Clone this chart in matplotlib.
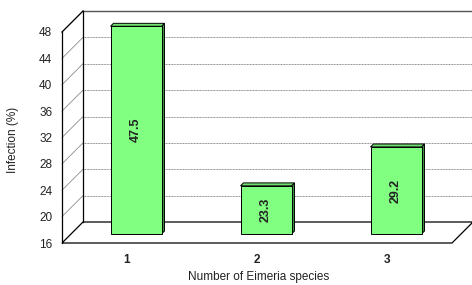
import matplotlib
matplotlib.use("Agg")
import matplotlib.pyplot as plt
from matplotlib.patches import Polygon

plt.rcParams['font.family'] = ['Liberation Sans', 'DejaVu Sans']

categories = ["1", "2", "3"]
values = [47.5, 23.3, 29.2]
yticks = [16, 20, 24, 28, 32, 36, 40, 44, 48]

W, H = 472, 285
fig = plt.figure(figsize=(W / 100, H / 100), dpi=100)
# front plane of the 3D box, in pixels: x 62..452, y 32..243 (from top)
ax = fig.add_axes([62 / W, (H - 243) / H, 390 / W, 211 / H])
ax.set_xlim(0.5, 3.5)
ax.set_ylim(16, 48)

# depth offset (21 px right, 21 px up) in data units
dx = 21 / 130
dy = 21 / (211 / 32)
x0, x1 = 0.5, 3.5
y0, y1 = 16, 48

def poly(pts, **kw):
    p = Polygon(pts, closed=True, clip_on=False, **kw)
    ax.add_patch(p)

# back wall, side wall, floor
poly([(x0 + dx, y0 + dy), (x1 + dx, y0 + dy), (x1 + dx, y1 + dy), (x0 + dx, y1 + dy)],
     facecolor="white", edgecolor="none", zorder=0)
poly([(x0, y0), (x0 + dx, y0 + dy), (x0 + dx, y1 + dy), (x0, y1)],
     facecolor="white", edgecolor="none", zorder=0)
poly([(x0, y0), (x1, y0), (x1 + dx, y0 + dy), (x0 + dx, y0 + dy)],
     facecolor="white", edgecolor="black", lw=0.9, zorder=1)

# gridlines on back wall and side wall
for t in yticks[1:]:
    ax.plot([x0 + dx, x1 + dx], [t + dy, t + dy], color="#8c8c8c", lw=0.7,
            ls=(0, (1, 0.6)), clip_on=False, zorder=1)
    ax.plot([x0, x0 + dx], [t, t + dy], color="#8c8c8c", lw=0.6,
            clip_on=False, zorder=1)
# top edge of back wall
ax.plot([x0 + dx, x1 + dx + 0.05], [y1 + dy, y1 + dy], color="#555555", lw=1.0,
        clip_on=False, zorder=1)
# back wall left edge, side wall top, front axis
ax.plot([x0 + dx, x0 + dx], [y0 + dy, y1 + dy], color="black", lw=0.9, clip_on=False, zorder=2)
ax.plot([x0, x0 + dx], [y1, y1 + dy], color="black", lw=0.9, clip_on=False, zorder=2)
ax.plot([x0, x0], [y0, y1], color="black", lw=0.9, clip_on=False, zorder=2)

# bars
bw = 51 / 130
df, db = 0.43, 0.57
front = "#80ff80"
side = "#3f8f3f"
for i, v in enumerate(values):
    c = i + 1
    fx, fy = dx * df, dy * df
    bx, by = dx * db, dy * db
    l, r = c - bw / 2, c + bw / 2
    # side face
    poly([(r + fx, y0 + fy), (r + bx, y0 + by), (r + bx, v + by), (r + fx, v + fy)],
         facecolor=side, edgecolor="black", lw=0.7, zorder=3)
    # top face
    poly([(l + fx, v + fy), (r + fx, v + fy), (r + bx, v + by), (l + bx, v + by)],
         facecolor="#6fe06f", edgecolor="black", lw=0.7, zorder=3)
    # front face
    poly([(l + fx, y0 + fy), (r + fx, y0 + fy), (r + fx, v + fy), (l + fx, v + fy)],
         facecolor=front, edgecolor="black", lw=0.7, zorder=4)
    ax.text(c + fx, (y0 + v) / 2 + fy, f"{v:.1f}", rotation=90, ha="center",
            va="center", fontsize=9, fontweight="bold", color="#222222", zorder=5)

for s in ax.spines.values():
    s.set_visible(False)
ax.set_yticks(yticks)
ax.set_yticklabels([str(t) for t in yticks], fontsize=8.5, color="#222222")
ax.tick_params(axis="y", length=0, pad=7)
ax.set_xticks([1, 2, 3])
ax.set_xticklabels(categories, fontsize=8.5, fontweight="bold", color="#222222")
ax.tick_params(axis="x", length=0, pad=8)
ax.patch.set_visible(False)

fig.text(13 / W, 1 - 140 / H, "Infection (%)", rotation=90, ha="center", va="center",
         fontsize=8.5, color="#222222")
fig.text(259 / W, 1 - 277 / H, "Number of Eimeria species", ha="center", va="center",
         fontsize=8.5, color="#222222")

fig.savefig("out.png", dpi=100)
